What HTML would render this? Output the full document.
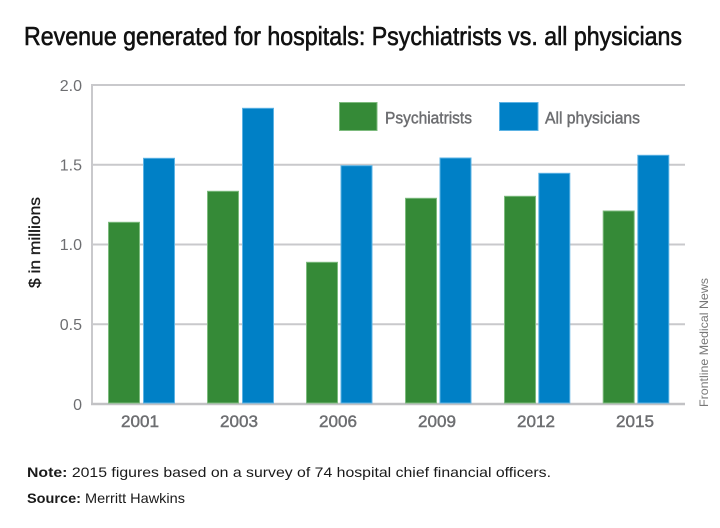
<!DOCTYPE html>
<html>
<head>
<meta charset="utf-8">
<style>
html,body{margin:0;padding:0;background:#fff;}
svg{display:block;}
text{font-family:"Liberation Sans Narrow","Liberation Sans",sans-serif;}
</style>
</head>
<body>
<svg width="720" height="528" viewBox="0 0 720 528" xmlns="http://www.w3.org/2000/svg">
  <rect width="720" height="528" fill="#fff"/>
  <!-- Title -->
  <text x="24" y="45" font-size="26" fill="#111" stroke="#111" stroke-width="0.6" textLength="658" lengthAdjust="spacingAndGlyphs">Revenue generated for hospitals: Psychiatrists vs. all physicians</text>

  <!-- gridlines -->
  <g stroke="#c9c9cc" stroke-width="2">
    <line x1="92" y1="85" x2="685" y2="85"/>
    <line x1="92" y1="164.8" x2="685" y2="164.8"/>
    <line x1="92" y1="244.5" x2="685" y2="244.5"/>
    <line x1="92" y1="324.2" x2="685" y2="324.2"/>
    <line x1="92" y1="84" x2="92" y2="405"/>
  </g>
  <line x1="91" y1="404" x2="685" y2="404" stroke="#c2c2c5" stroke-width="2.5"/>

  <!-- y tick labels -->
  <g font-size="16" fill="#6d6e71" text-anchor="end">
    <text x="82" y="91">2.0</text>
    <text x="82" y="170.5">1.5</text>
    <text x="82" y="250">1.0</text>
    <text x="82" y="330">0.5</text>
    <text x="82" y="410">0</text>
  </g>

  <!-- y axis title -->
  <text transform="translate(40,242.5) rotate(-90)" font-size="16" fill="#1a1a1a" stroke="#1a1a1a" stroke-width="0.3" text-anchor="middle" textLength="91" lengthAdjust="spacingAndGlyphs">$ in millions</text>

  <!-- bars -->
  <g stroke-width="1">
    <rect x="108.5" y="222.3" width="31" height="180.7" fill="#358a37" stroke="#7dbb7e"/>
    <rect x="143.5" y="158.3" width="31" height="244.7" fill="#0080c6" stroke="#5db3e4"/>

    <rect x="207.5" y="191.3" width="31" height="211.7" fill="#358a37" stroke="#7dbb7e"/>
    <rect x="242.5" y="108.3" width="31" height="294.7" fill="#0080c6" stroke="#5db3e4"/>

    <rect x="306.5" y="262.3" width="31" height="140.7" fill="#358a37" stroke="#7dbb7e"/>
    <rect x="341.0" y="165.7" width="31" height="237.3" fill="#0080c6" stroke="#5db3e4"/>

    <rect x="405.5" y="198.3" width="31" height="204.7" fill="#358a37" stroke="#7dbb7e"/>
    <rect x="440.0" y="158.0" width="31" height="245.0" fill="#0080c6" stroke="#5db3e4"/>

    <rect x="504.5" y="196.3" width="31" height="206.7" fill="#358a37" stroke="#7dbb7e"/>
    <rect x="538.8" y="173.3" width="31" height="229.7" fill="#0080c6" stroke="#5db3e4"/>

    <rect x="603.2" y="211.0" width="31" height="192.0" fill="#358a37" stroke="#7dbb7e"/>
    <rect x="637.8" y="155.3" width="31" height="247.7" fill="#0080c6" stroke="#5db3e4"/>
  </g>

  <!-- x labels -->
  <g font-size="17" fill="#6d6e71" stroke="#6d6e71" stroke-width="0.45" text-anchor="middle">
    <text x="140" y="427" textLength="38" lengthAdjust="spacingAndGlyphs">2001</text>
    <text x="239" y="427" textLength="38" lengthAdjust="spacingAndGlyphs">2003</text>
    <text x="338" y="427" textLength="38" lengthAdjust="spacingAndGlyphs">2006</text>
    <text x="437" y="427" textLength="38" lengthAdjust="spacingAndGlyphs">2009</text>
    <text x="536" y="427" textLength="38" lengthAdjust="spacingAndGlyphs">2012</text>
    <text x="635" y="427" textLength="38" lengthAdjust="spacingAndGlyphs">2015</text>
  </g>

  <!-- legend -->
  <rect x="339.5" y="102.5" width="37.5" height="28" fill="#358a37" stroke="#7dbb7e" stroke-width="1"/>
  <text x="385" y="123.5" font-size="17" fill="#6d6e71" stroke="#6d6e71" stroke-width="0.45" textLength="87" lengthAdjust="spacingAndGlyphs">Psychiatrists</text>
  <rect x="499.5" y="102.5" width="38.5" height="28" fill="#0080c6" stroke="#5db3e4" stroke-width="1"/>
  <text x="545" y="123.5" font-size="17" fill="#6d6e71" stroke="#6d6e71" stroke-width="0.45" textLength="95" lengthAdjust="spacingAndGlyphs">All physicians</text>

  <!-- credit -->
  <text transform="translate(708,407) rotate(-90)" font-size="12" fill="#777" textLength="129" lengthAdjust="spacingAndGlyphs">Frontline Medical News</text>

  <!-- notes -->
  <text x="27" y="477" font-size="14" fill="#1a1a1a" textLength="524" lengthAdjust="spacingAndGlyphs"><tspan font-weight="bold">Note:</tspan> 2015 figures based on a survey of 74 hospital chief financial officers.</text>
  <text x="27" y="503" font-size="14" fill="#1a1a1a" textLength="158" lengthAdjust="spacingAndGlyphs"><tspan font-weight="bold">Source:</tspan> Merritt Hawkins</text>
</svg>
</body>
</html>
